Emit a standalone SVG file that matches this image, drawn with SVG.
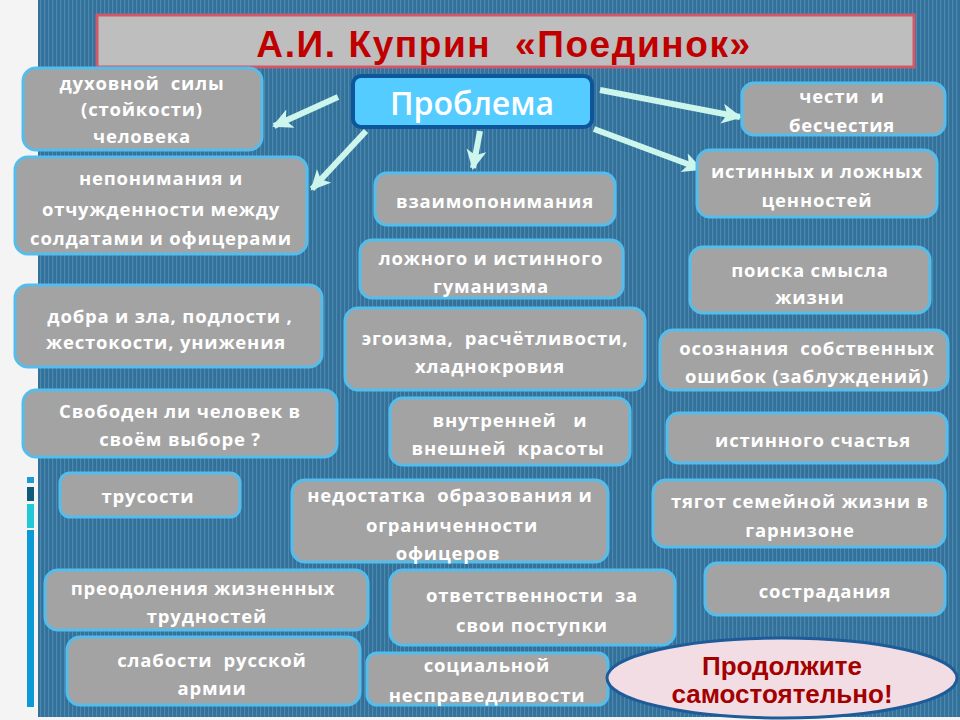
<svg xmlns="http://www.w3.org/2000/svg" width="960" height="720" viewBox="0 0 960 720" xml:space="preserve">
<defs>
<pattern id="stripes" width="4" height="8" patternUnits="userSpaceOnUse">
<rect width="4" height="8" fill="#33709A"/>
<rect x="0" width="1.2" height="8" fill="#4C88AF"/>
</pattern>
<marker id="ah" markerUnits="userSpaceOnUse" markerWidth="22" markerHeight="22" refX="18" refY="10" orient="auto">
<path d="M0,0 L20,10 L0,20 L5,10 Z" fill="#CCF6EC"/>
</marker>
</defs>
<style>
text{white-space:pre}
.box{fill:#A3A3A3;stroke:#55BDEB;stroke-width:3}
.t{font-family:"Open Sans","DejaVu Sans",sans-serif;font-weight:bold;font-size:18.5px;fill:#FFFFFF;text-anchor:middle;letter-spacing:0.8px}
.arr{stroke:#CCF6EC;stroke-width:6;fill:none;marker-end:url(#ah)}
.red{font-family:"Liberation Sans",Arial,sans-serif;font-weight:bold;font-size:26px;fill:#A30000;text-anchor:middle}
</style>
<rect width="960" height="720" fill="#F4F4F4"/>
<rect x="38" y="0" width="922" height="717" fill="url(#stripes)"/>
<rect x="27" y="477" width="7" height="6" fill="#1E9AD6"/>
<rect x="27" y="487" width="7" height="14" fill="#0E5A78"/>
<rect x="27" y="504" width="7" height="24" fill="#20C8D8"/>
<rect x="27" y="530" width="7" height="177" fill="#0A9AD8"/>

<g id="title">
<rect x="97" y="15" width="817" height="52" fill="#BEBEBE" stroke="#D05868" stroke-width="3"/>
<text x="504" y="57" font-family="'Liberation Sans',Arial,sans-serif" font-weight="bold" font-size="37" letter-spacing="1.6" fill="#C00000" text-anchor="middle">А.И. Куприн  «Поединок»</text>
</g>

<g id="problem">
<rect x="353" y="76" width="239" height="51" rx="8" fill="#55CCFF" stroke="#0E5699" stroke-width="4"/>
<text x="472" y="115" font-family="'Open Sans','DejaVu Sans',sans-serif" font-weight="600" font-size="32" fill="#FFFFFF" text-anchor="middle">Проблема</text>
</g>

<g id="connectors">
<line class="arr" x1="338" y1="97" x2="274" y2="126"/>
<line class="arr" x1="366" y1="131" x2="312" y2="189"/>
<line class="arr" x1="480" y1="131" x2="473" y2="168"/>
<line class="arr" x1="600" y1="90" x2="740" y2="117"/>
<line class="arr" x1="594" y1="129" x2="701" y2="169"/>
</g>

<g id="n1"><rect class="box" x="23" y="68" width="239" height="82" rx="13"/>
<text class="t" x="142" y="90">духовной  силы</text><text class="t" x="142" y="116">(стойкости)</text><text class="t" x="142" y="143">человека</text></g>

<g id="n2"><rect class="box" x="15" y="157" width="292" height="97" rx="13"/>
<text class="t" x="161" y="185">непонимания и</text><text class="t" x="161" y="216">отчужденности между</text><text class="t" x="161" y="245">солдатами и офицерами</text></g>

<g id="n3"><rect class="box" x="15" y="285" width="307" height="82" rx="13"/>
<text class="t" x="170" y="323">добра и зла, подлости ,</text><text class="t" x="166" y="349">жестокости, унижения</text></g>

<g id="n4"><rect class="box" x="23" y="390" width="314" height="67" rx="13"/>
<text class="t" x="180" y="418">Свободен ли человек в</text><text class="t" x="180" y="446">своём выборе ?</text></g>

<g id="n5"><rect class="box" x="60" y="473" width="180" height="44" rx="10"/>
<text class="t" x="148" y="503">трусости</text></g>

<g id="n6"><rect class="box" x="45" y="570" width="323" height="60" rx="13"/>
<text class="t" x="203" y="595">преодоления жизненных</text><text class="t" x="207" y="623">трудностей</text></g>

<g id="n7"><rect class="box" x="67" y="637" width="293" height="68" rx="13"/>
<text class="t" x="212" y="667">слабости  русской</text><text class="t" x="212" y="695">армии</text></g>

<g id="n8"><rect class="box" x="375" y="173" width="240" height="52" rx="12"/>
<text class="t" x="495" y="208">взаимопонимания</text></g>

<g id="n9"><rect class="box" x="360" y="240" width="263" height="58" rx="12"/>
<text class="t" x="491" y="265">ложного и истинного</text><text class="t" x="491" y="293">гуманизма</text></g>

<g id="n10"><rect class="box" x="345" y="308" width="300" height="82" rx="13"/>
<text class="t" x="495" y="345">эгоизма,  расчётливости,</text><text class="t" x="490" y="373">хладнокровия</text></g>

<g id="n11"><rect class="box" x="390" y="398" width="240" height="67" rx="13"/>
<text class="t" x="510" y="427">внутренней   и</text><text class="t" x="508" y="455">внешней  красоты</text></g>

<g id="n12"><rect class="box" x="292" y="480" width="316" height="82" rx="13"/>
<text class="t" x="450" y="502">недостатка  образования и</text><text class="t" x="452" y="532">ограниченности</text><text class="t" x="448" y="560">офицеров</text></g>

<g id="n13"><rect class="box" x="390" y="570" width="285" height="75" rx="13"/>
<text class="t" x="532" y="602">ответственности  за</text><text class="t" x="532" y="632">свои поступки</text></g>

<g id="n14"><rect class="box" x="367" y="653" width="241" height="52" rx="10"/>
<text class="t" x="487" y="672">социальной</text><text class="t" x="487" y="702">несправедливости</text></g>

<g id="n15"><rect class="box" x="742" y="83" width="203" height="52" rx="12"/>
<text class="t" x="842" y="103">чести  и</text><text class="t" x="842" y="132">бесчестия</text></g>

<g id="n16"><rect class="box" x="697" y="150" width="240" height="67" rx="13"/>
<text class="t" x="817" y="178">истинных и ложных</text><text class="t" x="817" y="207">ценностей</text></g>

<g id="n17"><rect class="box" x="690" y="247" width="240" height="66" rx="13"/>
<text class="t" x="810" y="277">поиска смысла</text><text class="t" x="810" y="304">жизни</text></g>

<g id="n18"><rect class="box" x="660" y="330" width="288" height="60" rx="13"/>
<text class="t" x="807" y="355">осознания  собственных</text><text class="t" x="807" y="383">ошибок (заблуждений)</text></g>

<g id="n19"><rect class="box" x="667" y="413" width="280" height="50" rx="12"/>
<text class="t" x="813" y="447">истинного счастья</text></g>

<g id="n20"><rect class="box" x="653" y="480" width="292" height="67" rx="13"/>
<text class="t" x="800" y="508">тягот семейной жизни в</text><text class="t" x="800" y="537">гарнизоне</text></g>

<g id="n21"><rect class="box" x="705" y="563" width="240" height="52" rx="12"/>
<text class="t" x="825" y="598">сострадания</text></g>

<g id="n22"><ellipse cx="782" cy="678" rx="175" ry="40" fill="#F3DDE5" stroke="#1E5C99" stroke-width="3"/>
<text class="red" x="782" y="675">Продолжите</text>
<text class="red" x="782" y="703">самостоятельно!</text></g>
</svg>
